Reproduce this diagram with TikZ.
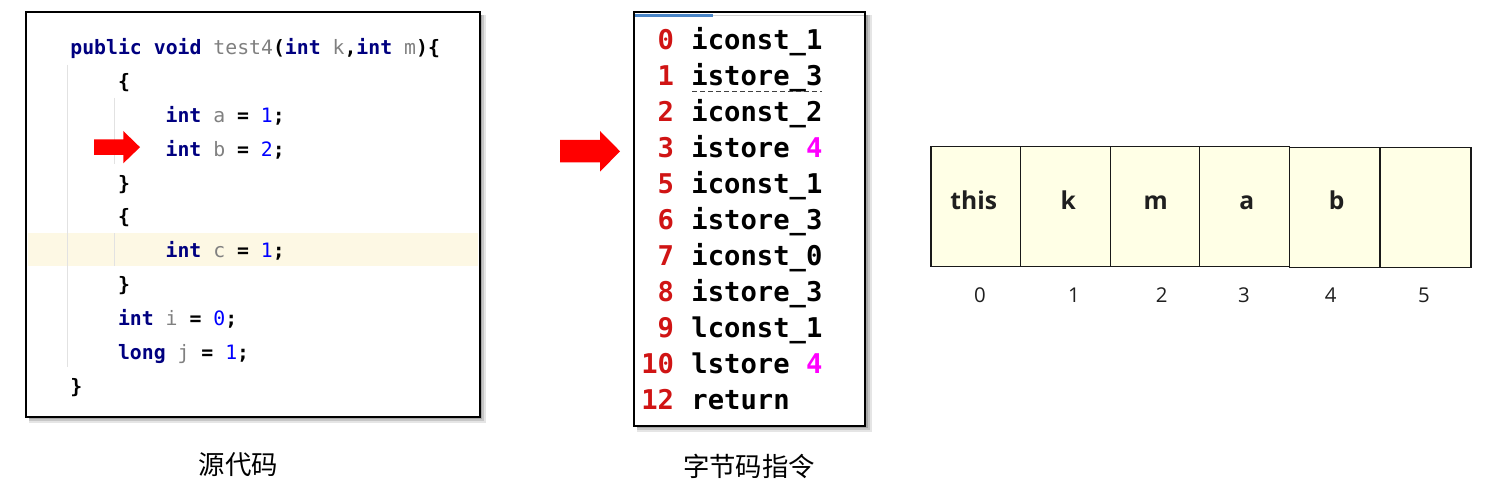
\documentclass[tikz,border=0pt]{standalone}
\usepackage{fontspec}
\setmainfont{Open Sans}
\newfontfamily\codefont{DejaVu Sans Mono}
\newfontfamily\cjk{Noto Sans CJK SC}
\definecolor{kwc}{HTML}{000080}
\definecolor{nmc}{HTML}{808080}
\definecolor{numc}{HTML}{0000FF}
\definecolor{bcred}{RGB}{208,20,20}
\definecolor{mag}{HTML}{FF00FF}
\definecolor{hlrow}{RGB}{253,248,228}
\definecolor{guide}{RGB}{226,226,226}
\definecolor{cellfill}{RGB}{255,255,230}
\definecolor{barblue}{RGB}{74,134,200}
\newcommand{\kw}[1]{\textcolor{kwc}{\bfseries #1}}
\newcommand{\nm}[1]{\textcolor{nmc}{#1}}
\newcommand{\numc}[1]{\textcolor{numc}{#1}}
\newcommand{\pc}[1]{\textbf{#1}}
\tikzset{
  codeline/.style={inner sep=0pt, anchor=base west, font=\codefont\fontsize{9.9}{12}\selectfont\frenchspacing},
  bcnum/.style={inner sep=0pt, anchor=base east, text=bcred, font=\codefont\bfseries\fontsize{13.6}{16}\selectfont},
  bcins/.style={inner sep=0pt, anchor=base west, text=black, font=\codefont\bfseries\fontsize{13.6}{16}\selectfont\frenchspacing},
  cellbox/.style={draw=black!90, line width=0.7pt, fill=cellfill, inner sep=0pt, minimum height=60pt},
  celllbl/.style={inner sep=0pt, anchor=base, text=black!88, font=\bfseries\fontsize{12.3}{14}\selectfont},
  idxlbl/.style={inner sep=0pt, anchor=base, text=black!88, font=\fontsize{10.2}{12}\selectfont},
  caption/.style={inner sep=0pt, font=\cjk\fontsize{13.2}{15}\selectfont},
  redarrow/.style={fill=red},
}
\begin{document}
\begin{tikzpicture}[x=0.5pt,y=-0.5pt]
\useasboundingbox (0,0) rectangle (1499,497);
\fill[white] (0,0) rectangle (1499,497);

% ---------- source code panel ----------
\fill[black!10] (29,15) rectangle (486,423);
\fill[black!22] (29,15) rectangle (484,421);
\fill[black!35] (29,15) rectangle (482,419);
\fill[white] (26,12) rectangle (479.5,417);
\fill[hlrow] (28,233.5) rectangle (478,265.7);
\draw[guide, line width=0.5pt] (67,65) -- (67,367);
\draw[guide, line width=0.5pt] (114,98) -- (114,164);
\draw[guide, line width=0.5pt] (114,233.5) -- (114,265.7);
\draw[black, line width=1pt] (26,12) rectangle (479.5,417);

\node[codeline] (c0) at (70,55) {\kw{public} \kw{void} \nm{test4}\pc{(}\kw{int} \nm{k}\pc{,}\kw{int} \nm{m}\pc{)\{}};
\node[codeline] (c1) at (117.6,88.8) {\pc{\{}};
\node[codeline] (c2) at (165.2,122.6) {\kw{int} \nm{a} \pc{=} \numc{1}\pc{;}};
\node[codeline] (c3) at (165.2,156.4) {\kw{int} \nm{b} \pc{=} \numc{2}\pc{;}};
\node[codeline] (c4) at (117.6,190.2) {\pc{\}}};
\node[codeline] (c5) at (117.6,224.0) {\pc{\{}};
\node[codeline] (c6) at (165.2,257.8) {\kw{int} \nm{c} \pc{=} \numc{1}\pc{;}};
\node[codeline] (c7) at (117.6,291.6) {\pc{\}}};
\node[codeline] (c8) at (117.6,325.4) {\kw{int} \nm{i} \pc{=} \numc{0}\pc{;}};
\node[codeline] (c9) at (117.6,359.2) {\kw{long} \nm{j} \pc{=} \numc{1}\pc{;}};
\node[codeline] (c10) at (70,393) {\pc{\}}};

% red arrow in code
\fill[redarrow] (94,139.3) -- (123.3,139.3) -- (123.3,131) -- (140,147.2) -- (123.3,163.3) -- (123.3,155) -- (94,155) -- cycle;

% ---------- bytecode panel ----------
\fill[black!10] (637,15) rectangle (872,432);
\fill[black!22] (637,15) rectangle (870,430);
\fill[black!35] (637,15) rectangle (868,428);
\fill[white] (634,12) rectangle (865,425.5);
\draw[black!18, line width=0.6pt] (712,15.3) -- (864,15.3);
\fill[barblue] (635,14) rectangle (712.5,16.8);
\draw[black, line width=1pt] (634,12) rectangle (865,425.5);

\node[bcnum] (n0) at (674.5,50.0) {0};
\node[bcins] (b0) at (691,50.0) {iconst\_1};
\node[bcnum] (n1) at (674.5,85.9) {1};
\node[bcins] (b1) at (691,85.9) {istore\_3};
\node[bcnum] (n2) at (674.5,121.8) {2};
\node[bcins] (b2) at (691,121.8) {iconst\_2};
\node[bcnum] (n3) at (674.5,157.7) {3};
\node[bcins] (b3) at (691,157.7) {istore \textcolor{mag}{4}};
\node[bcnum] (n4) at (674.5,193.6) {5};
\node[bcins] (b4) at (691,193.6) {iconst\_1};
\node[bcnum] (n5) at (674.5,229.5) {6};
\node[bcins] (b5) at (691,229.5) {istore\_3};
\node[bcnum] (n6) at (674.5,265.4) {7};
\node[bcins] (b6) at (691,265.4) {iconst\_0};
\node[bcnum] (n7) at (674.5,301.3) {8};
\node[bcins] (b7) at (691,301.3) {istore\_3};
\node[bcnum] (n8) at (674.5,337.2) {9};
\node[bcins] (b8) at (691,337.2) {lconst\_1};
\node[bcnum] (n9) at (674.5,373.1) {10};
\node[bcins] (b9) at (691,373.1) {lstore \textcolor{mag}{4}};
\node[bcnum] (n10) at (674.5,409.0) {12};
\node[bcins] (b10) at (691,409.0) {return};

\draw[black!75, line width=0.5pt, dash pattern=on 2.5pt off 1.5pt] (692,92) -- (822,92);

% red arrow before bytecode
\fill[redarrow] (560,140) -- (600,140) -- (600,131) -- (620,151.3) -- (600,171.7) -- (600,162.3) -- (560,162.3) -- cycle;

% ---------- local variable table ----------
\node[cellbox, minimum width=44.85pt] (s0) at (975.85,206.7) {};
\node[cellbox, minimum width=45pt]    (s1) at (1065.7,206.7) {};
\node[cellbox, minimum width=44.3pt]  (s2) at (1155,206.7) {};
\node[cellbox, minimum width=45pt]    (s3) at (1244.3,206.7) {};
\node[cellbox, minimum width=45.35pt] (s4) at (1334.65,207.7) {};
\node[cellbox, minimum width=45.5pt]  (s5) at (1425.5,207.7) {};

\node[celllbl] (l0) at (973.7,210) {this};
\node[celllbl] (l1) at (1068.3,210) {k};
\node[celllbl] (l2) at (1155.7,210) {m};
\node[celllbl] (l3) at (1246.7,210) {a};
\node[celllbl] (l4) at (1336.7,210) {b};

\node[idxlbl] (i0) at (980,302.3) {0};
\node[idxlbl] (i1) at (1074,302.3) {1};
\node[idxlbl] (i2) at (1161.7,302.3) {2};
\node[idxlbl] (i3) at (1244,302.3) {3};
\node[idxlbl] (i4) at (1330.7,302.3) {4};
\node[idxlbl] (i5) at (1424,302.3) {5};

% ---------- captions ----------
\node[caption] (cap1) at (238.5,465) {源代码};
\node[caption] (cap2) at (749,466.5) {字节码指令};
\end{tikzpicture}
\end{document}
